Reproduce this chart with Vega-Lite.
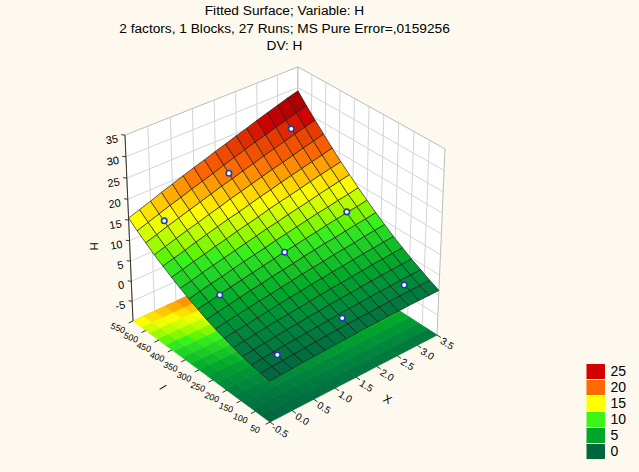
{
  "$schema": "https://vega.github.io/schema/vega-lite/v6.json",
  "width": 639,
  "height": 414,
  "autosize": "none",
  "padding": {"left": 0, "top": 58, "right": 0, "bottom": 0},
  "background": "#fdf9ef",
  "title": {
    "text": ["Fitted Surface; Variable: H", "2 factors, 1 Blocks, 27 Runs; MS Pure Error=,0159256", "DV: H"],
    "anchor": "middle",
    "dx": -35,
    "offset": 5,
    "font": "Liberation Sans",
    "fontSize": 13.7,
    "fontWeight": "normal",
    "color": "#000000",
    "lineHeight": 17.5
  },
  "datasets": {
    "grid": [
      {"X":-0.5,"I":50,"H":-0.1},{"X":-0.25,"I":50,"H":0.1},{"X":0,"I":50,"H":0.2},{"X":0.25,"I":50,"H":0.4},{"X":0.5,"I":50,"H":0.5},{"X":0.75,"I":50,"H":0.6},{"X":1,"I":50,"H":0.7},{"X":1.25,"I":50,"H":0.8},{"X":1.5,"I":50,"H":0.9},{"X":1.75,"I":50,"H":1.0},{"X":2,"I":50,"H":1.0},{"X":2.25,"I":50,"H":1.1},{"X":2.5,"I":50,"H":1.1},{"X":2.75,"I":50,"H":1.2},{"X":3,"I":50,"H":1.2},{"X":3.25,"I":50,"H":1.2},{"X":3.5,"I":50,"H":1.2},
      {"X":-0.5,"I":81.25,"H":0.2},{"X":-0.25,"I":81.25,"H":0.5},{"X":0,"I":81.25,"H":0.6},{"X":0.25,"I":81.25,"H":0.8},{"X":0.5,"I":81.25,"H":1.0},{"X":0.75,"I":81.25,"H":1.2},{"X":1,"I":81.25,"H":1.3},{"X":1.25,"I":81.25,"H":1.5},{"X":1.5,"I":81.25,"H":1.6},{"X":1.75,"I":81.25,"H":1.7},{"X":2,"I":81.25,"H":1.8},{"X":2.25,"I":81.25,"H":1.9},{"X":2.5,"I":81.25,"H":2.0},{"X":2.75,"I":81.25,"H":2.1},{"X":3,"I":81.25,"H":2.2},{"X":3.25,"I":81.25,"H":2.2},{"X":3.5,"I":81.25,"H":2.3},
      {"X":-0.5,"I":112.5,"H":0.6},{"X":-0.25,"I":112.5,"H":0.9},{"X":0,"I":112.5,"H":1.1},{"X":0.25,"I":112.5,"H":1.4},{"X":0.5,"I":112.5,"H":1.6},{"X":0.75,"I":112.5,"H":1.8},{"X":1,"I":112.5,"H":2.0},{"X":1.25,"I":112.5,"H":2.2},{"X":1.5,"I":112.5,"H":2.4},{"X":1.75,"I":112.5,"H":2.6},{"X":2,"I":112.5,"H":2.7},{"X":2.25,"I":112.5,"H":2.9},{"X":2.5,"I":112.5,"H":3.0},{"X":2.75,"I":112.5,"H":3.1},{"X":3,"I":112.5,"H":3.3},{"X":3.25,"I":112.5,"H":3.4},{"X":3.5,"I":112.5,"H":3.5},
      {"X":-0.5,"I":143.75,"H":1.1},{"X":-0.25,"I":143.75,"H":1.4},{"X":0,"I":143.75,"H":1.7},{"X":0.25,"I":143.75,"H":2.0},{"X":0.5,"I":143.75,"H":2.3},{"X":0.75,"I":143.75,"H":2.5},{"X":1,"I":143.75,"H":2.8},{"X":1.25,"I":143.75,"H":3.0},{"X":1.5,"I":143.75,"H":3.3},{"X":1.75,"I":143.75,"H":3.5},{"X":2,"I":143.75,"H":3.7},{"X":2.25,"I":143.75,"H":3.9},{"X":2.5,"I":143.75,"H":4.1},{"X":2.75,"I":143.75,"H":4.3},{"X":3,"I":143.75,"H":4.4},{"X":3.25,"I":143.75,"H":4.6},{"X":3.5,"I":143.75,"H":4.7},
      {"X":-0.5,"I":175,"H":1.7},{"X":-0.25,"I":175,"H":2.0},{"X":0,"I":175,"H":2.4},{"X":0.25,"I":175,"H":2.7},{"X":0.5,"I":175,"H":3.0},{"X":0.75,"I":175,"H":3.3},{"X":1,"I":175,"H":3.6},{"X":1.25,"I":175,"H":3.9},{"X":1.5,"I":175,"H":4.2},{"X":1.75,"I":175,"H":4.5},{"X":2,"I":175,"H":4.7},{"X":2.25,"I":175,"H":5.0},{"X":2.5,"I":175,"H":5.2},{"X":2.75,"I":175,"H":5.5},{"X":3,"I":175,"H":5.7},{"X":3.25,"I":175,"H":5.9},{"X":3.5,"I":175,"H":6.1},
      {"X":-0.5,"I":206.25,"H":2.4},{"X":-0.25,"I":206.25,"H":2.8},{"X":0,"I":206.25,"H":3.1},{"X":0.25,"I":206.25,"H":3.5},{"X":0.5,"I":206.25,"H":3.9},{"X":0.75,"I":206.25,"H":4.3},{"X":1,"I":206.25,"H":4.6},{"X":1.25,"I":206.25,"H":4.9},{"X":1.5,"I":206.25,"H":5.3},{"X":1.75,"I":206.25,"H":5.6},{"X":2,"I":206.25,"H":5.9},{"X":2.25,"I":206.25,"H":6.2},{"X":2.5,"I":206.25,"H":6.5},{"X":2.75,"I":206.25,"H":6.8},{"X":3,"I":206.25,"H":7.0},{"X":3.25,"I":206.25,"H":7.3},{"X":3.5,"I":206.25,"H":7.5},
      {"X":-0.5,"I":237.5,"H":3.1},{"X":-0.25,"I":237.5,"H":3.6},{"X":0,"I":237.5,"H":4.0},{"X":0.25,"I":237.5,"H":4.4},{"X":0.5,"I":237.5,"H":4.8},{"X":0.75,"I":237.5,"H":5.2},{"X":1,"I":237.5,"H":5.6},{"X":1.25,"I":237.5,"H":6.0},{"X":1.5,"I":237.5,"H":6.4},{"X":1.75,"I":237.5,"H":6.8},{"X":2,"I":237.5,"H":7.1},{"X":2.25,"I":237.5,"H":7.5},{"X":2.5,"I":237.5,"H":7.8},{"X":2.75,"I":237.5,"H":8.1},{"X":3,"I":237.5,"H":8.5},{"X":3.25,"I":237.5,"H":8.8},{"X":3.5,"I":237.5,"H":9.1},
      {"X":-0.5,"I":268.75,"H":3.9},{"X":-0.25,"I":268.75,"H":4.4},{"X":0,"I":268.75,"H":4.9},{"X":0.25,"I":268.75,"H":5.4},{"X":0.5,"I":268.75,"H":5.9},{"X":0.75,"I":268.75,"H":6.3},{"X":1,"I":268.75,"H":6.8},{"X":1.25,"I":268.75,"H":7.2},{"X":1.5,"I":268.75,"H":7.6},{"X":1.75,"I":268.75,"H":8.1},{"X":2,"I":268.75,"H":8.5},{"X":2.25,"I":268.75,"H":8.9},{"X":2.5,"I":268.75,"H":9.2},{"X":2.75,"I":268.75,"H":9.6},{"X":3,"I":268.75,"H":10.0},{"X":3.25,"I":268.75,"H":10.3},{"X":3.5,"I":268.75,"H":10.7},
      {"X":-0.5,"I":300,"H":4.9},{"X":-0.25,"I":300,"H":5.4},{"X":0,"I":300,"H":6.0},{"X":0.25,"I":300,"H":6.5},{"X":0.5,"I":300,"H":7.0},{"X":0.75,"I":300,"H":7.5},{"X":1,"I":300,"H":8.0},{"X":1.25,"I":300,"H":8.5},{"X":1.5,"I":300,"H":9.0},{"X":1.75,"I":300,"H":9.4},{"X":2,"I":300,"H":9.9},{"X":2.25,"I":300,"H":10.3},{"X":2.5,"I":300,"H":10.8},{"X":2.75,"I":300,"H":11.2},{"X":3,"I":300,"H":11.6},{"X":3.25,"I":300,"H":12.0},{"X":3.5,"I":300,"H":12.4},
      {"X":-0.5,"I":331.25,"H":5.9},{"X":-0.25,"I":331.25,"H":6.5},{"X":0,"I":331.25,"H":7.1},{"X":0.25,"I":331.25,"H":7.6},{"X":0.5,"I":331.25,"H":8.2},{"X":0.75,"I":331.25,"H":8.8},{"X":1,"I":331.25,"H":9.3},{"X":1.25,"I":331.25,"H":9.8},{"X":1.5,"I":331.25,"H":10.4},{"X":1.75,"I":331.25,"H":10.9},{"X":2,"I":331.25,"H":11.4},{"X":2.25,"I":331.25,"H":11.9},{"X":2.5,"I":331.25,"H":12.4},{"X":2.75,"I":331.25,"H":12.8},{"X":3,"I":331.25,"H":13.3},{"X":3.25,"I":331.25,"H":13.7},{"X":3.5,"I":331.25,"H":14.2},
      {"X":-0.5,"I":362.5,"H":7.0},{"X":-0.25,"I":362.5,"H":7.6},{"X":0,"I":362.5,"H":8.3},{"X":0.25,"I":362.5,"H":8.9},{"X":0.5,"I":362.5,"H":9.5},{"X":0.75,"I":362.5,"H":10.1},{"X":1,"I":362.5,"H":10.7},{"X":1.25,"I":362.5,"H":11.3},{"X":1.5,"I":362.5,"H":11.9},{"X":1.75,"I":362.5,"H":12.4},{"X":2,"I":362.5,"H":13.0},{"X":2.25,"I":362.5,"H":13.5},{"X":2.5,"I":362.5,"H":14.0},{"X":2.75,"I":362.5,"H":14.6},{"X":3,"I":362.5,"H":15.1},{"X":3.25,"I":362.5,"H":15.6},{"X":3.5,"I":362.5,"H":16.1},
      {"X":-0.5,"I":393.75,"H":8.2},{"X":-0.25,"I":393.75,"H":8.9},{"X":0,"I":393.75,"H":9.6},{"X":0.25,"I":393.75,"H":10.2},{"X":0.5,"I":393.75,"H":10.9},{"X":0.75,"I":393.75,"H":11.5},{"X":1,"I":393.75,"H":12.2},{"X":1.25,"I":393.75,"H":12.8},{"X":1.5,"I":393.75,"H":13.4},{"X":1.75,"I":393.75,"H":14.1},{"X":2,"I":393.75,"H":14.7},{"X":2.25,"I":393.75,"H":15.2},{"X":2.5,"I":393.75,"H":15.8},{"X":2.75,"I":393.75,"H":16.4},{"X":3,"I":393.75,"H":17.0},{"X":3.25,"I":393.75,"H":17.5},{"X":3.5,"I":393.75,"H":18.0},
      {"X":-0.5,"I":425,"H":9.5},{"X":-0.25,"I":425,"H":10.2},{"X":0,"I":425,"H":10.9},{"X":0.25,"I":425,"H":11.7},{"X":0.5,"I":425,"H":12.4},{"X":0.75,"I":425,"H":13.1},{"X":1,"I":425,"H":13.8},{"X":1.25,"I":425,"H":14.4},{"X":1.5,"I":425,"H":15.1},{"X":1.75,"I":425,"H":15.8},{"X":2,"I":425,"H":16.4},{"X":2.25,"I":425,"H":17.1},{"X":2.5,"I":425,"H":17.7},{"X":2.75,"I":425,"H":18.3},{"X":3,"I":425,"H":18.9},{"X":3.25,"I":425,"H":19.5},{"X":3.5,"I":425,"H":20.1},
      {"X":-0.5,"I":456.25,"H":10.8},{"X":-0.25,"I":456.25,"H":11.6},{"X":0,"I":456.25,"H":12.4},{"X":0.25,"I":456.25,"H":13.2},{"X":0.5,"I":456.25,"H":13.9},{"X":0.75,"I":456.25,"H":14.7},{"X":1,"I":456.25,"H":15.4},{"X":1.25,"I":456.25,"H":16.2},{"X":1.5,"I":456.25,"H":16.9},{"X":1.75,"I":456.25,"H":17.6},{"X":2,"I":456.25,"H":18.3},{"X":2.25,"I":456.25,"H":19.0},{"X":2.5,"I":456.25,"H":19.6},{"X":2.75,"I":456.25,"H":20.3},{"X":3,"I":456.25,"H":21.0},{"X":3.25,"I":456.25,"H":21.6},{"X":3.5,"I":456.25,"H":22.3},
      {"X":-0.5,"I":487.5,"H":12.3},{"X":-0.25,"I":487.5,"H":13.1},{"X":0,"I":487.5,"H":14.0},{"X":0.25,"I":487.5,"H":14.8},{"X":0.5,"I":487.5,"H":15.6},{"X":0.75,"I":487.5,"H":16.4},{"X":1,"I":487.5,"H":17.2},{"X":1.25,"I":487.5,"H":18.0},{"X":1.5,"I":487.5,"H":18.7},{"X":1.75,"I":487.5,"H":19.5},{"X":2,"I":487.5,"H":20.2},{"X":2.25,"I":487.5,"H":21.0},{"X":2.5,"I":487.5,"H":21.7},{"X":2.75,"I":487.5,"H":22.4},{"X":3,"I":487.5,"H":23.1},{"X":3.25,"I":487.5,"H":23.8},{"X":3.5,"I":487.5,"H":24.5},
      {"X":-0.5,"I":518.75,"H":13.8},{"X":-0.25,"I":518.75,"H":14.7},{"X":0,"I":518.75,"H":15.6},{"X":0.25,"I":518.75,"H":16.5},{"X":0.5,"I":518.75,"H":17.3},{"X":0.75,"I":518.75,"H":18.2},{"X":1,"I":518.75,"H":19.0},{"X":1.25,"I":518.75,"H":19.8},{"X":1.5,"I":518.75,"H":20.7},{"X":1.75,"I":518.75,"H":21.5},{"X":2,"I":518.75,"H":22.3},{"X":2.25,"I":518.75,"H":23.1},{"X":2.5,"I":518.75,"H":23.8},{"X":2.75,"I":518.75,"H":24.6},{"X":3,"I":518.75,"H":25.3},{"X":3.25,"I":518.75,"H":26.1},{"X":3.5,"I":518.75,"H":26.8},
      {"X":-0.5,"I":550,"H":15.5},{"X":-0.25,"I":550,"H":16.4},{"X":0,"I":550,"H":17.3},{"X":0.25,"I":550,"H":18.3},{"X":0.5,"I":550,"H":19.2},{"X":0.75,"I":550,"H":20.1},{"X":1,"I":550,"H":21.0},{"X":1.25,"I":550,"H":21.8},{"X":1.5,"I":550,"H":22.7},{"X":1.75,"I":550,"H":23.5},{"X":2,"I":550,"H":24.4},{"X":2.25,"I":550,"H":25.2},{"X":2.5,"I":550,"H":26.1},{"X":2.75,"I":550,"H":26.9},{"X":3,"I":550,"H":27.7},{"X":3.25,"I":550,"H":28.5},{"X":3.5,"I":550,"H":29.2}
    ],
    "pts": [
      {"X":0,"I":100,"H":1.0},{"X":1.5,"I":100,"H":2.1},{"X":3,"I":100,"H":2.7},
      {"X":0,"I":300,"H":5.8},{"X":1.5,"I":300,"H":8.9},{"X":3,"I":300,"H":11.8},
      {"X":0,"I":500,"H":14.7},{"X":1.5,"I":500,"H":19.5},{"X":3,"I":500,"H":23.9}
    ],
    "walls": [
      {"wall":"L","k":0,"X":-0.5,"I":550,"H":-10},{"wall":"L","k":1,"X":3.5,"I":550,"H":-10},{"wall":"L","k":2,"X":3.5,"I":550,"H":35},{"wall":"L","k":3,"X":-0.5,"I":550,"H":35},{"wall":"L","k":4,"X":-0.5,"I":550,"H":-10},
      {"wall":"R","k":0,"X":3.5,"I":550,"H":-10},{"wall":"R","k":1,"X":3.5,"I":50,"H":-10},{"wall":"R","k":2,"X":3.5,"I":50,"H":35},{"wall":"R","k":3,"X":3.5,"I":550,"H":35},{"wall":"R","k":4,"X":3.5,"I":550,"H":-10}
    ],
    "gridlines": [
      {"X":0,"I":550,"H":-10,"X2":0,"I2":550,"H2":35},{"X":0.5,"I":550,"H":-10,"X2":0.5,"I2":550,"H2":35},{"X":1,"I":550,"H":-10,"X2":1,"I2":550,"H2":35},{"X":1.5,"I":550,"H":-10,"X2":1.5,"I2":550,"H2":35},{"X":2,"I":550,"H":-10,"X2":2,"I2":550,"H2":35},{"X":2.5,"I":550,"H":-10,"X2":2.5,"I2":550,"H2":35},{"X":3,"I":550,"H":-10,"X2":3,"I2":550,"H2":35},
      {"X":3.5,"I":100,"H":-10,"X2":3.5,"I2":100,"H2":35},{"X":3.5,"I":150,"H":-10,"X2":3.5,"I2":150,"H2":35},{"X":3.5,"I":200,"H":-10,"X2":3.5,"I2":200,"H2":35},{"X":3.5,"I":250,"H":-10,"X2":3.5,"I2":250,"H2":35},{"X":3.5,"I":300,"H":-10,"X2":3.5,"I2":300,"H2":35},{"X":3.5,"I":350,"H":-10,"X2":3.5,"I2":350,"H2":35},{"X":3.5,"I":400,"H":-10,"X2":3.5,"I2":400,"H2":35},{"X":3.5,"I":450,"H":-10,"X2":3.5,"I2":450,"H2":35},{"X":3.5,"I":500,"H":-10,"X2":3.5,"I2":500,"H2":35},
      {"X":-0.5,"I":550,"H":-5,"X2":3.5,"I2":550,"H2":-5},{"X":-0.5,"I":550,"H":0,"X2":3.5,"I2":550,"H2":0},{"X":-0.5,"I":550,"H":5,"X2":3.5,"I2":550,"H2":5},{"X":-0.5,"I":550,"H":10,"X2":3.5,"I2":550,"H2":10},{"X":-0.5,"I":550,"H":15,"X2":3.5,"I2":550,"H2":15},{"X":-0.5,"I":550,"H":20,"X2":3.5,"I2":550,"H2":20},{"X":-0.5,"I":550,"H":25,"X2":3.5,"I2":550,"H2":25},{"X":-0.5,"I":550,"H":30,"X2":3.5,"I2":550,"H2":30},
      {"X":3.5,"I":550,"H":-5,"X2":3.5,"I2":50,"H2":-5},{"X":3.5,"I":550,"H":0,"X2":3.5,"I2":50,"H2":0},{"X":3.5,"I":550,"H":5,"X2":3.5,"I2":50,"H2":5},{"X":3.5,"I":550,"H":10,"X2":3.5,"I2":50,"H2":10},{"X":3.5,"I":550,"H":15,"X2":3.5,"I2":50,"H2":15},{"X":3.5,"I":550,"H":20,"X2":3.5,"I2":50,"H2":20},{"X":3.5,"I":550,"H":25,"X2":3.5,"I2":50,"H2":25},{"X":3.5,"I":550,"H":30,"X2":3.5,"I2":50,"H2":30}
    ],
    "ticks": [
      {"axis":"X","v":-0.5},{"axis":"X","v":0},{"axis":"X","v":0.5},{"axis":"X","v":1},{"axis":"X","v":1.5},{"axis":"X","v":2},{"axis":"X","v":2.5},{"axis":"X","v":3},{"axis":"X","v":3.5},
      {"axis":"I","v":50},{"axis":"I","v":100},{"axis":"I","v":150},{"axis":"I","v":200},{"axis":"I","v":250},{"axis":"I","v":300},{"axis":"I","v":350},{"axis":"I","v":400},{"axis":"I","v":450},{"axis":"I","v":500},{"axis":"I","v":550},
      {"axis":"H","v":-5},{"axis":"H","v":0},{"axis":"H","v":5},{"axis":"H","v":10},{"axis":"H","v":15},{"axis":"H","v":20},{"axis":"H","v":25},{"axis":"H","v":30},{"axis":"H","v":35}
    ]
  },
  "encoding": {
    "x": {"field": "px", "type": "quantitative", "scale": {"domain": [0, 639], "nice": false, "zero": false}, "axis": null},
    "y": {"field": "py", "type": "quantitative", "scale": {"domain": [58, 472], "nice": false, "zero": false, "reverse": true}, "axis": null}
  },
  "layer": [
    {
      "data": {"name": "walls"},
      "transform": [
        {"calculate": "0.989176 + 0.016325*datum.X + 0.0001424*datum.I - 0.0011867*datum.H", "as": "D"},
        {"calculate": "(303.808 + 48.8875*datum.X - 0.25506*datum.I - 0.33889*datum.H) / datum.D", "as": "px"},
        {"calculate": "(375.83 - 16.2775*datum.X - 0.15626*datum.I - 4.58444*datum.H) / datum.D", "as": "py"}
      ],
      "mark": {"type": "line", "stroke": "#bcbcbc", "strokeWidth": 1},
      "encoding": {
        "detail": {"field": "wall"},
        "order": {"field": "k", "type": "quantitative"},
        "fill": {"value": "#ffffff"}
      }
    },
    {
      "data": {"name": "gridlines"},
      "transform": [
        {"calculate": "0.989176 + 0.016325*datum.X + 0.0001424*datum.I - 0.0011867*datum.H", "as": "D"},
        {"calculate": "(303.808 + 48.8875*datum.X - 0.25506*datum.I - 0.33889*datum.H) / datum.D", "as": "px"},
        {"calculate": "(375.83 - 16.2775*datum.X - 0.15626*datum.I - 4.58444*datum.H) / datum.D", "as": "py"},
        {"calculate": "0.989176 + 0.016325*datum.X2 + 0.0001424*datum.I2 - 0.0011867*datum.H2", "as": "D2"},
        {"calculate": "(303.808 + 48.8875*datum.X2 - 0.25506*datum.I2 - 0.33889*datum.H2) / datum.D2", "as": "px2"},
        {"calculate": "(375.83 - 16.2775*datum.X2 - 0.15626*datum.I2 - 4.58444*datum.H2) / datum.D2", "as": "py2"}
      ],
      "mark": {"type": "rule", "stroke": "#d4d4d4", "strokeWidth": 1},
      "encoding": {"x2": {"field": "px2"}, "y2": {"field": "py2"}}
    },
    {
      "data": {"name": "grid"},
      "transform": [
        {"calculate": "[0, 1, 2, 3, 4]", "as": "k"},
        {"flatten": ["k"]},
        {"calculate": "datum.k == 1 || datum.k == 2 ? datum.X - 0.25 : datum.X", "as": "cx"},
        {"calculate": "datum.k == 2 || datum.k == 3 ? datum.I - 31.25 : datum.I", "as": "ci"},
        {"filter": "datum.cx >= -0.5 && datum.cx < 3.4 && datum.ci >= 50 && datum.ci < 540"},
        {"calculate": "datum.cx + '_' + datum.ci", "as": "cell"},
        {"calculate": "datum.k == 4 ? null : datum.H", "as": "Hv"},
        {"joinaggregate": [{"op": "mean", "field": "Hv", "as": "Hc"}], "groupby": ["cell"]}
      ],
      "layer": [
        {
          "transform": [
            {"calculate": "1.001043 + 0.016325*datum.X + 0.0001424*datum.I", "as": "fD"},
            {"calculate": "(307.197 + 48.8875*datum.X - 0.25506*datum.I) / datum.fD", "as": "fx"},
            {"calculate": "(421.674 - 16.2775*datum.X - 0.15626*datum.I) / datum.fD", "as": "fy"}
          ],
          "mark": {"type": "line", "strokeWidth": 0.8, "strokeJoin": "round"},
          "encoding": {
            "x": {"field": "fx", "type": "quantitative", "scale": {"domain": [0, 639], "nice": false, "zero": false}, "axis": null},
            "y": {"field": "fy", "type": "quantitative", "scale": {"domain": [58, 472], "nice": false, "zero": false, "reverse": true}, "axis": null},
            "detail": {"field": "cell"},
            "order": {"field": "k", "type": "quantitative"},
            "fill": {
              "field": "Hc", "type": "quantitative",
              "scale": {"domain": [-2, 0, 5, 10, 15, 20, 25, 30], "range": ["#005a3a", "#006640", "#00a52a", "#3af41a", "#ffff00", "#ff6a00", "#d40000", "#8c0000"], "clamp": true},
              "legend": {
                "type": "symbol", "values": [25, 20, 15, 10, 5, 0], "title": null,
                "orient": "none", "legendX": 586.5, "legendY": 306, "padding": 0,
                "symbolType": "M-1.5,-1L1.5,-1L1.5,1L-1.5,1Z", "symbolSize": 196,
                "symbolStrokeColor": "#000000", "symbolStrokeWidth": 1, "symbolOpacity": 1,
                "labelFont": "Liberation Sans", "labelFontSize": 14, "labelColor": "#000000", "labelOffset": 9,
                "clipHeight": 15, "rowPadding": 1,
                "encode": {"symbols": {"update": {"stroke": {"value": "#000000"}, "strokeWidth": {"value": 1}}}}
              }
            },
            "stroke": {
              "field": "Hc", "type": "quantitative",
              "scale": {"domain": [-2, 0, 5, 10, 15, 20, 25, 30], "range": ["#005a3a", "#006640", "#00a52a", "#3af41a", "#ffff00", "#ff6a00", "#d40000", "#8c0000"], "clamp": true},
              "legend": null
            }
          }
        },
        {
          "transform": [
            {"calculate": "0.989176 + 0.016325*datum.X + 0.0001424*datum.I - 0.0011867*datum.H", "as": "D"},
            {"calculate": "(303.808 + 48.8875*datum.X - 0.25506*datum.I - 0.33889*datum.H) / datum.D", "as": "px"},
            {"calculate": "(375.83 - 16.2775*datum.X - 0.15626*datum.I - 4.58444*datum.H) / datum.D", "as": "py"}
          ],
          "mark": {"type": "line", "stroke": "#1a1a1a", "strokeWidth": 0.8, "strokeOpacity": 0.85, "strokeJoin": "round"},
          "encoding": {
            "detail": {"field": "cell"},
            "order": {"field": "k", "type": "quantitative"},
            "fill": {
              "field": "Hc", "type": "quantitative",
              "scale": {"domain": [-2, 0, 5, 10, 15, 20, 25, 30], "range": ["#005a3a", "#006640", "#00a52a", "#3af41a", "#ffff00", "#ff6a00", "#d40000", "#8c0000"], "clamp": true},
              "legend": {
                "type": "symbol", "values": [25, 20, 15, 10, 5, 0], "title": null,
                "orient": "none", "legendX": 586.5, "legendY": 306, "padding": 0,
                "symbolType": "M-1.5,-1L1.5,-1L1.5,1L-1.5,1Z", "symbolSize": 196,
                "symbolStrokeColor": "#000000", "symbolStrokeWidth": 1, "symbolOpacity": 1,
                "labelFont": "Liberation Sans", "labelFontSize": 14, "labelColor": "#000000", "labelOffset": 9,
                "clipHeight": 15, "rowPadding": 1,
                "encode": {"symbols": {"update": {"stroke": {"value": "#000000"}, "strokeWidth": {"value": 1}}}}
              }
            }
          }
        }
      ]
    },
    {
      "data": {"name": "pts"},
      "transform": [
        {"calculate": "0.989176 + 0.016325*datum.X + 0.0001424*datum.I - 0.0011867*datum.H", "as": "D"},
        {"calculate": "(303.808 + 48.8875*datum.X - 0.25506*datum.I - 0.33889*datum.H) / datum.D", "as": "px"},
        {"calculate": "(375.83 - 16.2775*datum.X - 0.15626*datum.I - 4.58444*datum.H) / datum.D", "as": "py"}
      ],
      "mark": {"type": "point", "shape": "circle", "filled": true, "fill": "#ffffff", "stroke": "#1f3fae", "strokeWidth": 1.6, "size": 30, "opacity": 1}
    },
    {
      "data": {"values": [{"X": -0.5, "I": 550, "H": -10, "X2": -0.5, "I2": 550, "H2": 35}]},
      "transform": [
        {"calculate": "0.989176 + 0.016325*datum.X + 0.0001424*datum.I - 0.0011867*datum.H", "as": "D"},
        {"calculate": "(303.808 + 48.8875*datum.X - 0.25506*datum.I - 0.33889*datum.H) / datum.D", "as": "px"},
        {"calculate": "(375.83 - 16.2775*datum.X - 0.15626*datum.I - 4.58444*datum.H) / datum.D", "as": "py"},
        {"calculate": "0.989176 + 0.016325*datum.X2 + 0.0001424*datum.I2 - 0.0011867*datum.H2", "as": "D2"},
        {"calculate": "(303.808 + 48.8875*datum.X2 - 0.25506*datum.I2 - 0.33889*datum.H2) / datum.D2", "as": "px2"},
        {"calculate": "(375.83 - 16.2775*datum.X2 - 0.15626*datum.I2 - 4.58444*datum.H2) / datum.D2", "as": "py2"}
      ],
      "mark": {"type": "rule", "stroke": "#333333", "strokeWidth": 1},
      "encoding": {"x2": {"field": "px2"}, "y2": {"field": "py2"}}
    },
    {
      "data": {"name": "ticks"},
      "transform": [
        {"calculate": "datum.axis == 'X' ? datum.v : -0.5", "as": "tX"},
        {"calculate": "datum.axis == 'I' ? datum.v : datum.axis == 'X' ? 50 : 550", "as": "tI"},
        {"calculate": "datum.axis == 'H' ? datum.v : -10", "as": "tH"},
        {"calculate": "datum.axis == 'X' ? datum.v : datum.axis == 'I' ? -0.6 : -0.54", "as": "tX2"},
        {"calculate": "datum.axis == 'I' ? datum.v : datum.axis == 'X' ? 37 : 557", "as": "tI2"},
        {"calculate": "0.989176 + 0.016325*datum.tX + 0.0001424*datum.tI - 0.0011867*datum.tH", "as": "tD"},
        {"calculate": "(303.808 + 48.8875*datum.tX - 0.25506*datum.tI - 0.33889*datum.tH) / datum.tD", "as": "tx"},
        {"calculate": "(375.83 - 16.2775*datum.tX - 0.15626*datum.tI - 4.58444*datum.tH) / datum.tD", "as": "ty"},
        {"calculate": "0.989176 + 0.016325*datum.tX2 + 0.0001424*datum.tI2 - 0.0011867*datum.tH", "as": "tD2"},
        {"calculate": "(303.808 + 48.8875*datum.tX2 - 0.25506*datum.tI2 - 0.33889*datum.tH) / datum.tD2", "as": "tx2"},
        {"calculate": "(375.83 - 16.2775*datum.tX2 - 0.15626*datum.tI2 - 4.58444*datum.tH) / datum.tD2", "as": "ty2"}
      ],
      "mark": {"type": "rule", "stroke": "#333333", "strokeWidth": 1},
      "encoding": {
        "x": {"field": "tx", "type": "quantitative", "scale": {"domain": [0, 639], "nice": false, "zero": false}, "axis": null},
        "y": {"field": "ty", "type": "quantitative", "scale": {"domain": [58, 472], "nice": false, "zero": false, "reverse": true}, "axis": null},
        "x2": {"field": "tx2"},
        "y2": {"field": "ty2"}
      }
    },
    {
      "data": {"name": "ticks"},
      "transform": [
        {"filter": "datum.axis == 'X'"},
        {"calculate": "datum.v", "as": "X"},
        {"calculate": "50", "as": "I"},
        {"calculate": "-10", "as": "H"},
        {"calculate": "0.989176 + 0.016325*datum.X + 0.0001424*datum.I - 0.0011867*datum.H", "as": "D"},
        {"calculate": "(303.808 + 48.8875*datum.X - 0.25506*datum.I - 0.33889*datum.H) / datum.D", "as": "px"},
        {"calculate": "(375.83 - 16.2775*datum.X - 0.15626*datum.I - 4.58444*datum.H) / datum.D", "as": "py"},
        {"calculate": "replace(format(datum.v, '.1f'), '\u2212', '-')", "as": "lab"}
      ],
      "mark": {"type": "text", "angle": 32, "xOffset": 10, "yOffset": 9, "font": "Liberation Sans", "fontSize": 10, "align": "center", "baseline": "middle", "color": "#000000"},
      "encoding": {"text": {"field": "lab"}}
    },
    {
      "data": {"name": "ticks"},
      "transform": [
        {"filter": "datum.axis == 'I'"},
        {"calculate": "-0.5", "as": "X"},
        {"calculate": "datum.v", "as": "I"},
        {"calculate": "-10", "as": "H"},
        {"calculate": "0.989176 + 0.016325*datum.X + 0.0001424*datum.I - 0.0011867*datum.H", "as": "D"},
        {"calculate": "(303.808 + 48.8875*datum.X - 0.25506*datum.I - 0.33889*datum.H) / datum.D", "as": "px"},
        {"calculate": "(375.83 - 16.2775*datum.X - 0.15626*datum.I - 4.58444*datum.H) / datum.D", "as": "py"},
        {"calculate": "format(datum.v, 'd')", "as": "lab"}
      ],
      "mark": {"type": "text", "angle": 20, "xOffset": -15, "yOffset": 7, "font": "Liberation Sans", "fontSize": 8.8, "align": "center", "baseline": "middle", "color": "#000000"},
      "encoding": {"text": {"field": "lab"}}
    },
    {
      "data": {"name": "ticks"},
      "transform": [
        {"filter": "datum.axis == 'H'"},
        {"calculate": "-0.5", "as": "X"},
        {"calculate": "550", "as": "I"},
        {"calculate": "datum.v", "as": "H"},
        {"calculate": "0.989176 + 0.016325*datum.X + 0.0001424*datum.I - 0.0011867*datum.H", "as": "D"},
        {"calculate": "(303.808 + 48.8875*datum.X - 0.25506*datum.I - 0.33889*datum.H) / datum.D", "as": "px"},
        {"calculate": "(375.83 - 16.2775*datum.X - 0.15626*datum.I - 4.58444*datum.H) / datum.D", "as": "py"},
        {"calculate": "replace(format(datum.v, 'd'), '\u2212', '-')", "as": "lab"}
      ],
      "mark": {"type": "text", "angle": -10, "xOffset": -7, "yOffset": 4, "font": "Liberation Sans", "fontSize": 11, "align": "right", "baseline": "middle", "color": "#000000"},
      "encoding": {"text": {"field": "lab"}}
    },
    {
      "data": {"values": [{"X": -0.5, "I": 550, "H": 12.5}]},
      "transform": [
        {"calculate": "0.989176 + 0.016325*datum.X + 0.0001424*datum.I - 0.0011867*datum.H", "as": "D"},
        {"calculate": "(303.808 + 48.8875*datum.X - 0.25506*datum.I - 0.33889*datum.H) / datum.D", "as": "px"},
        {"calculate": "(375.83 - 16.2775*datum.X - 0.15626*datum.I - 4.58444*datum.H) / datum.D", "as": "py"}
      ],
      "mark": {"type": "text", "text": "H", "angle": -90, "xOffset": -34, "yOffset": 16, "font": "Liberation Sans", "fontSize": 11.5, "align": "center", "baseline": "middle", "color": "#000000"}
    },
    {
      "data": {"values": [{"X": -0.5, "I": 300, "H": -10}]},
      "transform": [
        {"calculate": "0.989176 + 0.016325*datum.X + 0.0001424*datum.I - 0.0011867*datum.H", "as": "D"},
        {"calculate": "(303.808 + 48.8875*datum.X - 0.25506*datum.I - 0.33889*datum.H) / datum.D", "as": "px"},
        {"calculate": "(375.83 - 16.2775*datum.X - 0.15626*datum.I - 4.58444*datum.H) / datum.D", "as": "py"}
      ],
      "mark": {"type": "text", "text": "I", "angle": 58, "xOffset": -37, "yOffset": 18, "font": "Liberation Sans", "fontSize": 11.5, "align": "center", "baseline": "middle", "color": "#000000"}
    },
    {
      "data": {"values": [{"X": 1.5, "I": 50, "H": -10}]},
      "transform": [
        {"calculate": "0.989176 + 0.016325*datum.X + 0.0001424*datum.I - 0.0011867*datum.H", "as": "D"},
        {"calculate": "(303.808 + 48.8875*datum.X - 0.25506*datum.I - 0.33889*datum.H) / datum.D", "as": "px"},
        {"calculate": "(375.83 - 16.2775*datum.X - 0.15626*datum.I - 4.58444*datum.H) / datum.D", "as": "py"}
      ],
      "mark": {"type": "text", "text": "X", "angle": 30, "xOffset": 31, "yOffset": 23, "font": "Liberation Sans", "fontSize": 11.5, "align": "center", "baseline": "middle", "color": "#000000"}
    }
  ],
  "config": {"view": {"stroke": null}}
}
